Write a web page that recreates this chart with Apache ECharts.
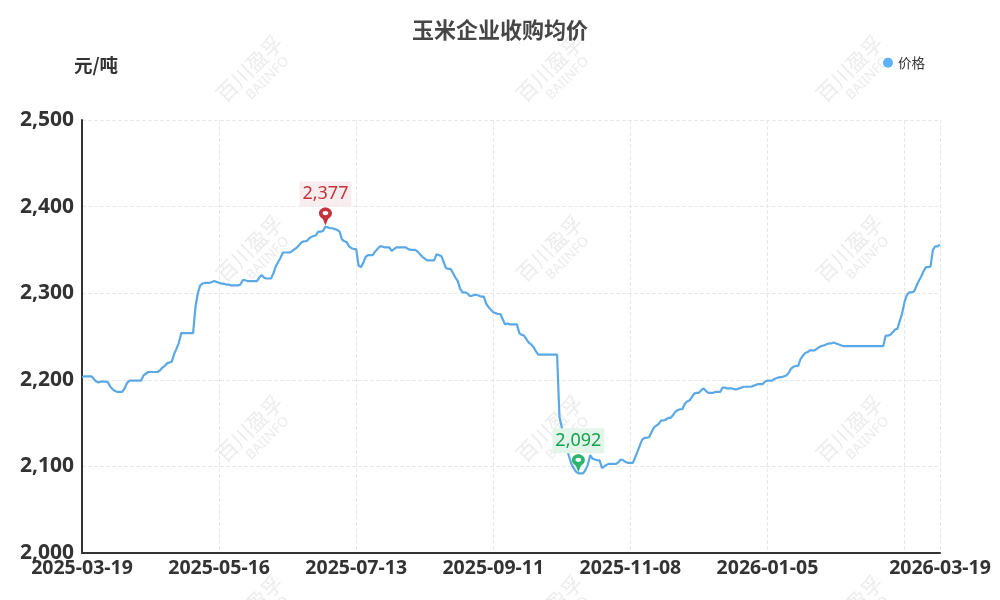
<!DOCTYPE html>
<html><head><meta charset="utf-8">
<style>html,body{margin:0;padding:0;background:#fff}#c{width:1000px;height:600px}</style>
<script src="https://cdn.jsdelivr.net/npm/echarts@6/dist/echarts.min.js"></script>
</head><body><div id="c"></div>
<script>
var titleText = '玉米企业收购均价';
var unitName = '元/吨';
var seriesName = '价格';
var startDate = '2025-03-19';
var skippedDates = ['2025-08-02', '2025-08-03'];
var priceValues = [
2203,2204,2204,2204,2204,2201,2198,2197,2198,2198,
2198,2197,2192,2189,2187,2186,2186,2186,2190,2196,
2199,2199,2199,2199,2199,2199,2205,2207,2209,2209,
2209,2209,2209,2211,2214,2216,2219,2220,2221,2230,
2236,2243,2254,2254,2254,2254,2254,2254,2284,2300,
2309,2311,2312,2312,2312,2313,2314,2313,2312,2311,
2311,2310,2310,2309,2309,2309,2309,2310,2315,2315,
2314,2314,2314,2314,2314,2318,2321,2318,2317,2317,
2317,2323,2331,2336,2341,2347,2347,2347,2347,2349,
2351,2353,2356,2359,2360,2360,2363,2365,2366,2367,
2371,2371,2372,2377,2376,2375,2375,2374,2373,2371,
2362,2360,2359,2354,2352,2351,2351,2332,2330,2335,
2342,2344,2344,2344,2348,2351,2354,2354,2353,2353,
2353,2349,2351,2353,2353,2353,2353,2353,2351,2350,
2350,2350,2348,2345,2342,2340,2338,2338,2338,2338,
2345,2344,2343,2336,2329,2328,2328,2323,2318,2314,
2305,2301,2301,2300,2297,2297,2298,2298,2297,2296,
2296,2288,2284,2281,2278,2277,2276,2276,2270,2264,
2265,2264,2264,2264,2264,2254,2252,2251,2247,2243,
2241,2238,2233,2229,2229,2229,2229,2229,2229,2229,
2229,2229,2157,2145,2132,2122,2112,2103,2098,2094,
2092,2092,2092,2096,2102,2113,2109,2108,2107,2107,
2098,2100,2102,2103,2103,2103,2103,2105,2108,2107,
2105,2104,2104,2104,2110,2117,2124,2131,2133,2133,
2134,2140,2145,2147,2149,2153,2153,2154,2156,2156,
2159,2163,2165,2166,2166,2172,2175,2176,2180,2184,
2185,2185,2188,2190,2187,2185,2185,2185,2186,2186,
2186,2191,2191,2190,2190,2190,2189,2189,2190,2191,
2192,2192,2192,2192,2193,2194,2195,2195,2195,2198,
2199,2199,2199,2201,2202,2203,2203,2204,2205,2208,
2213,2215,2216,2216,2224,2228,2231,2232,2234,2234,
2234,2236,2238,2239,2240,2241,2242,2242,2243,2242,
2241,2240,2239,2239,2239,2239,2239,2239,2239,2239,
2239,2239,2239,2239,2239,2239,2239,2239,2239,2239,
2251,2251,2252,2255,2258,2259,2268,2277,2290,2298,
2301,2301,2302,2308,2314,2319,2325,2330,2330,2331,
2350,2354,2354,2356
];
var yMin = 2000, yMax = 2500, yStep = 100, labelStep = 58;
var watermarkX = [255, 555, 855];
var watermarkY = [74, 254, 434, 614];

var categories = [];
(function () {
  var t = Date.parse(startDate + 'T00:00:00Z');
  while (categories.length < priceValues.length) {
    var s = new Date(t).toISOString().slice(0, 10);
    if (skippedDates.indexOf(s) < 0) categories.push(s);
    t += 86400000;
  }
})();
var last = categories.length - 1;
var FONT = '"Noto Sans","Noto Sans CJK SC",sans-serif';
var PIN = 'path://M6 0C2.7 0 0 2.4 0 5.4C0 8 2 9.6 3.6 10.8L6 17L8.4 10.8C10 9.6 12 8 12 5.4C12 2.4 9.3 0 6 0Z M6 3.2A2.6 2 0 0 1 6 7.2A2.6 2 0 0 1 6 3.2Z';

var graphics = [];
watermarkX.forEach(function (x) {
  watermarkY.forEach(function (y) {
    graphics.push({
      type: 'group', x: x, y: y, rotation: Math.PI / 4, silent: true, z: -10,
      children: [
        { type: 'text', x: 0, y: -8, z: -10, style: { text: '百川盈孚', font: '21px "Noto Sans CJK SC"', fill: '#ececec', textAlign: 'center', textVerticalAlign: 'middle' } },
        { type: 'text', x: 6, y: 12, z: -10, style: { text: 'BAIINFO', font: '13.5px "Noto Sans"', fill: '#ececec', textAlign: 'center', textVerticalAlign: 'middle' } }
      ]
    });
  });
});

var chart = echarts.init(document.getElementById('c'), null, { renderer: 'canvas' });
chart.setOption({
  animation: false,
  backgroundColor: '#fff',
  title: { text: titleText, left: 'center', top: 14, textStyle: { fontFamily: '"Noto Sans CJK SC"', fontSize: 22, fontWeight: 'bold', color: '#464646' } },
  legend: { right: 70, top: 51, icon: 'circle', itemWidth: 10, itemHeight: 10, itemGap: 5, textStyle: { fontFamily: '"Noto Sans CJK SC"', fontSize: 13.5, color: '#333' }, data: [seriesName] },
  graphic: graphics,
  grid: { left: 82, right: 60, top: 120, bottom: 47, containLabel: false },
  xAxis: {
    type: 'category', boundaryGap: false, data: categories,
    axisLine: { show: true, lineStyle: { color: '#333', width: 2 } },
    axisTick: { show: false },
    axisLabel: {
      fontFamily: FONT, fontSize: 19.5, fontWeight: 'bold', color: '#333', margin: 6, hideOverlap: false,
      showMinLabel: true, showMaxLabel: true,
      interval: function (i) { return i === last || (i % labelStep === 0 && i + labelStep < last); }
    },
    splitLine: { show: true, interval: function (i) { return i === last || i % labelStep === 0; }, lineStyle: { color: '#e6e8ea', type: 'dashed', width: 1 } }
  },
  yAxis: {
    type: 'value', min: yMin, max: yMax, interval: yStep,
    name: unitName, nameLocation: 'end', nameGap: 46,
    nameTextStyle: { fontFamily: '"Noto Sans CJK SC"', fontSize: 18.5, fontWeight: 'bold', color: '#333', align: 'center', padding: [0, 0, 0, 28] },
    axisLine: { show: true, lineStyle: { color: '#333', width: 2 } },
    axisTick: { show: false },
    axisLabel: { fontFamily: FONT, fontSize: 21, fontWeight: 'bold', color: '#333', margin: 8, padding: [0, 0, 2, 0],
      formatter: function (v) { return v.toLocaleString('en-US'); } },
    splitLine: { show: true, lineStyle: { color: '#e6e8ea', type: 'dashed', width: 1 } }
  },
  series: [{
    name: seriesName, type: 'line', data: priceValues, showSymbol: false, symbol: 'none',
    smooth: false,
    itemStyle: { color: '#5CB1FA' },
    lineStyle: { color: '#5AA9E6', width: 2.2 },
    markPoint: {
      symbol: PIN, symbolSize: [13, 18], symbolOffset: [0, -10], animation: false,
      label: { show: true, position: 'top', distance: 1, fontFamily: FONT, fontSize: 18, lineHeight: 19, padding: [3, 3], formatter: function (p) { return p.value.toLocaleString('en-US'); } },
      data: [
        { type: 'max', itemStyle: { color: '#C5323A' }, label: { color: '#C5323A', backgroundColor: '#F8EDEE' } },
        { type: 'min', itemStyle: { color: '#2DB56F' }, label: { color: '#12A24F', backgroundColor: '#E3F4E8' } }
      ]
    }
  }]
});
</script></body></html>
